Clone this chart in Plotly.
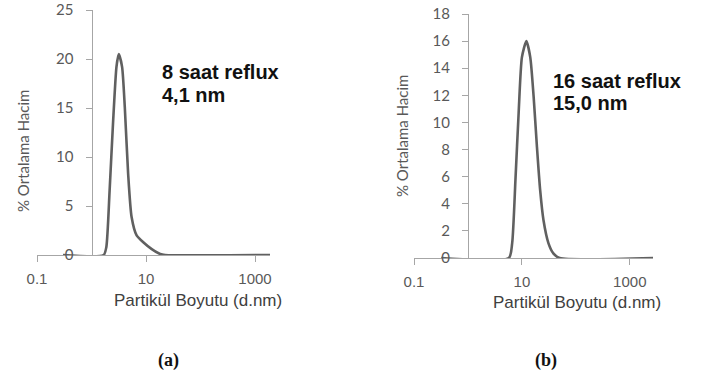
import plotly.graph_objects as go

# ---- data ----
size_a = [0.3, 1.67, 1.87, 2.15, 2.48, 2.87, 3.16, 3.64, 4.08, 4.70, 5.43, 6.73, 8.91, 12.75, 18.2, 22.5, 1900]
vol_a = [0, 0, 0.8, 6.6, 13.4, 19.2, 20.5, 19.2, 15.1, 8.3, 3.9, 2.0, 1.3, 0.6, 0.1, 0, 0]

size_b = [0.32, 5.73, 6.6, 7.6, 8.7, 10.0, 12.1, 14.3, 16.5, 19.0, 21.8, 25.1, 31.0, 38.3, 50.0, 2700]
vol_b = [0, 0, 1.1, 5.8, 10.7, 14.8, 16.0, 14.8, 11.9, 8.2, 5.0, 2.8, 1.1, 0.34, 0, 0]

x_tickvals = [0.1, 10, 1000]
x_ticktext = ["0.1", "10", "1000"]
label_a = ["8 saat reflux", "4,1 nm"]
label_b = ["16 saat reflux", "15,0 nm"]
panel_labels = ["(a)", "(b)"]
x_title = "Partikül Boyutu (d.nm)"
y_title = "% Ortalama Hacim"

W, H = 701, 379

def px(x):
    return x / W

def py(y):
    return 1 - y / H

# layout geometry (window pixels)
xa_dom = [37, 270]
xb_dom = [414, 653]
xa_rng = [-1, 3.275]
xb_rng = [-1, 3.43]
ya_dom = [255, 10]
yb_dom = [258, 14]

LINE = "#606060"
AXIS = "#a6a6a6"
TICKC = "#595959"

fig = go.Figure()
fig.add_trace(go.Scatter(x=size_a, y=vol_a, mode="lines", xaxis="x", yaxis="y",
                         line=dict(color=LINE, width=2.6, shape="spline", smoothing=0.6),
                         showlegend=False, hoverinfo="skip"))
fig.add_trace(go.Scatter(x=size_b, y=vol_b, mode="lines", xaxis="x2", yaxis="y2",
                         line=dict(color=LINE, width=2.6, shape="spline", smoothing=0.6),
                         showlegend=False, hoverinfo="skip"))

def ypos(dom, rng):
    # paper position of x = 1 on the log axis
    frac = (0 - rng[0]) / (rng[1] - rng[0])
    return px(dom[0] + frac * (dom[1] - dom[0]))

xfont = dict(family="Liberation Sans, Arial", size=15, color=TICKC)
yfont = dict(family="Lato, Open Sans", size=15, color=TICKC)

common_x = dict(type="log", showline=True, linecolor=AXIS, linewidth=1, ticks="outside",
                ticklen=6, tickcolor=AXIS, tickvals=x_tickvals, ticktext=x_ticktext,
                showgrid=False, zeroline=False, tickfont=xfont, ticklabelstandoff=4,
                fixedrange=True, automargin=False)
common_y = dict(showline=True, linecolor=AXIS, linewidth=1, ticks="outside", ticklen=6,
                tickcolor=AXIS, showgrid=False, zeroline=False, tickfont=yfont,
                anchor="free", ticklabelstandoff=9, fixedrange=True, automargin=False)

fig.update_layout(
    width=W, height=H, autosize=False,
    margin=dict(l=0, r=0, t=0, b=0, pad=0, autoexpand=False),
    paper_bgcolor="white", plot_bgcolor="rgba(0,0,0,0)",
    xaxis=dict(domain=[px(xa_dom[0]), px(xa_dom[1])], range=xa_rng, anchor="y", **common_x),
    xaxis2=dict(domain=[px(xb_dom[0]), px(xb_dom[1])], range=xb_rng, anchor="y2", **common_x),
    yaxis=dict(domain=[py(ya_dom[0]), py(ya_dom[1])], range=[0, 25], dtick=5,
               position=ypos(xa_dom, xa_rng), **common_y),
    yaxis2=dict(domain=[py(yb_dom[0]), py(yb_dom[1])], range=[0, 18], dtick=2,
                position=ypos(xb_dom, xb_rng), **common_y),
)

annots = []
bold = dict(family="Liberation Sans, Arial", size=20, color="#111111")
for txt, (x, y) in zip(label_a, [(160, 72.5), (160, 95)]):
    annots.append(dict(text="<b>%s</b>" % txt, x=px(x), y=py(y), xanchor="left", yanchor="middle", font=bold))
for txt, (x, y) in zip(label_b, [(551, 80.5), (551, 103.3)]):
    annots.append(dict(text="<b>%s</b>" % txt, x=px(x), y=py(y), xanchor="left", yanchor="middle", font=bold))

tfont = dict(family="Liberation Sans, Arial", size=17, color="#404040")
for (x, y) in [(197.5, 300), (576.5, 302)]:
    annots.append(dict(text=x_title, x=px(x), y=py(y), xanchor="center", yanchor="middle", font=tfont))

yt_font = dict(family="Lato, Open Sans", size=15, color=TICKC)
for (x, y) in [(23, 151), (402, 136)]:
    annots.append(dict(text=y_title, x=px(x), y=py(y), xanchor="center", yanchor="middle",
                       textangle=-90, font=yt_font))

pfont = dict(family="Liberation Serif, Times New Roman", size=18, color="#111111")
for txt, (x, y) in zip(panel_labels, [(168, 360), (546, 360)]):
    annots.append(dict(text="<b>%s</b>" % txt, x=px(x), y=py(y), xanchor="center", yanchor="middle", font=pfont))

for a in annots:
    a.update(xref="paper", yref="paper", showarrow=False)
fig.update_layout(annotations=annots)

# remove the default 8px page margin so the figure fills the window exactly; hide the modebar
fig.write_html("out.html", config={"displayModeBar": False, "staticPlot": True},
               post_script="document.body.style.margin='0';")
